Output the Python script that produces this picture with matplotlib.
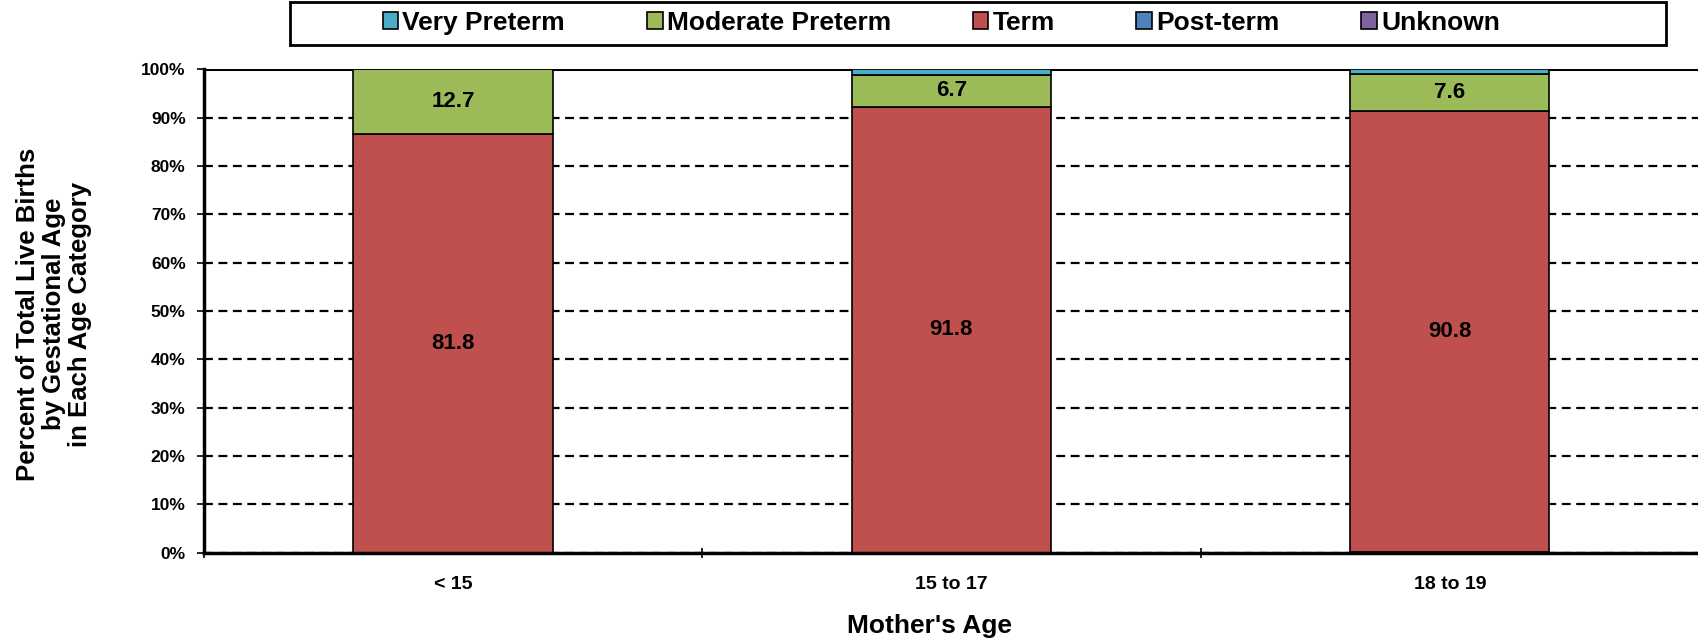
import matplotlib.pyplot as plt
from matplotlib.patches import Patch, Rectangle
import numpy as np

plt.rcParams['font.family'] = ['Liberation Sans', 'DejaVu Sans']
plt.rcParams['font.weight'] = 'bold'

# values shown in the chart (percent of live births); the chart is a 100% stack
categories = ['< 15', '15 to 17', '18 to 19']
very_preterm = [0.0, 1.1, 0.9]
moderate_preterm = [12.7, 6.7, 7.6]
term = [81.8, 91.8, 90.8]
post_term = [0.0, 0.0, 0.0]
unknown = [0.0, 0.0, 0.1]

series_names = ['Very Preterm', 'Moderate Preterm', 'Term', 'Post-term', 'Unknown']
colors = {'Very Preterm': '#4BACC6', 'Moderate Preterm': '#9BBB59', 'Term': '#C0504D',
          'Post-term': '#4F81BD', 'Unknown': '#8064A2'}

raw = {'Very Preterm': np.array(very_preterm), 'Moderate Preterm': np.array(moderate_preterm),
       'Term': np.array(term), 'Post-term': np.array(post_term), 'Unknown': np.array(unknown)}
total = sum(raw.values())
share = {k: v / total * 100 for k, v in raw.items()}

fig = plt.figure(figsize=(16.99, 6.44), dpi=100)
ax = fig.add_axes([0.1199, 0.1418, 0.8801, 0.7506])

x = np.arange(len(categories))
width = 0.4

ax.set_axisbelow(True)
ax.yaxis.grid(True, linestyle=(0, (4, 2.5)), color='black', linewidth=1.6)

# stacking bottom -> top
stack_order = ['Unknown', 'Post-term', 'Term', 'Moderate Preterm', 'Very Preterm']
bottom = np.zeros(len(categories))
for name in stack_order:
    vals = share[name]
    ax.bar(x, vals, width, bottom=bottom, color=colors[name], edgecolor='black',
           linewidth=1.2, zorder=3)
    if name in ('Term', 'Moderate Preterm'):
        for xi, b, v, r in zip(x, bottom, vals, raw[name]):
            ax.text(xi, b + v / 2, f'{r:.1f}', ha='center', va='center',
                    fontsize=16, fontweight='bold', zorder=4)
    bottom += vals

ax.axhline(100, color='black', linewidth=2.2, zorder=2)

ax.set_xlim(-0.5, 2.5)
ax.set_ylim(0, 100)
ax.set_yticks(np.arange(0, 101, 10))
ax.set_yticklabels([f'{v}%' for v in range(0, 101, 10)], fontsize=12.5, fontweight='bold')
ax.tick_params(axis='y', length=5, width=1.2, pad=8)

ax.set_xticks([-0.5, 0.5, 1.5, 2.5])
ax.set_xticklabels([])
ax.tick_params(axis='x', which='major', length=7, width=1.2, direction='inout')
ax.set_xticks(x, minor=True)
ax.set_xticklabels(categories, minor=True, fontsize=14, fontweight='bold')
ax.tick_params(axis='x', which='minor', length=0, pad=17)

for s in ['top', 'right']:
    ax.spines[s].set_visible(False)
for s in ['left', 'bottom']:
    ax.spines[s].set_linewidth(2.5)
    ax.spines[s].set_zorder(5)

fig.text(0.032, 0.512, 'Percent of Total Live Births\nby Gestational Age\nin Each Age Category',
         rotation=90, ha='center', va='center', multialignment='center',
         fontsize=18.5, fontweight='bold', linespacing=1.1)
fig.text(0.547, 0.028, "Mother's Age", ha='center', va='center',
         fontsize=19, fontweight='bold')

handles = [Patch(facecolor=colors[n], edgecolor='black', linewidth=1.2) for n in series_names]
fig.legend(handles, series_names, loc='center', bbox_to_anchor=(0.554, 0.965), ncol=5,
           frameon=False, handlelength=0.6, handleheight=0.6,
           handletextpad=0.15, columnspacing=3.1, prop={'weight': 'bold', 'size': 19})
fig.patches.append(Rectangle((290 / 1699, 1 - 45 / 644), (1666 - 290) / 1699, 43 / 644,
                             transform=fig.transFigure, fill=False, edgecolor='black',
                             linewidth=2))

fig.savefig('out.png', dpi=100)
